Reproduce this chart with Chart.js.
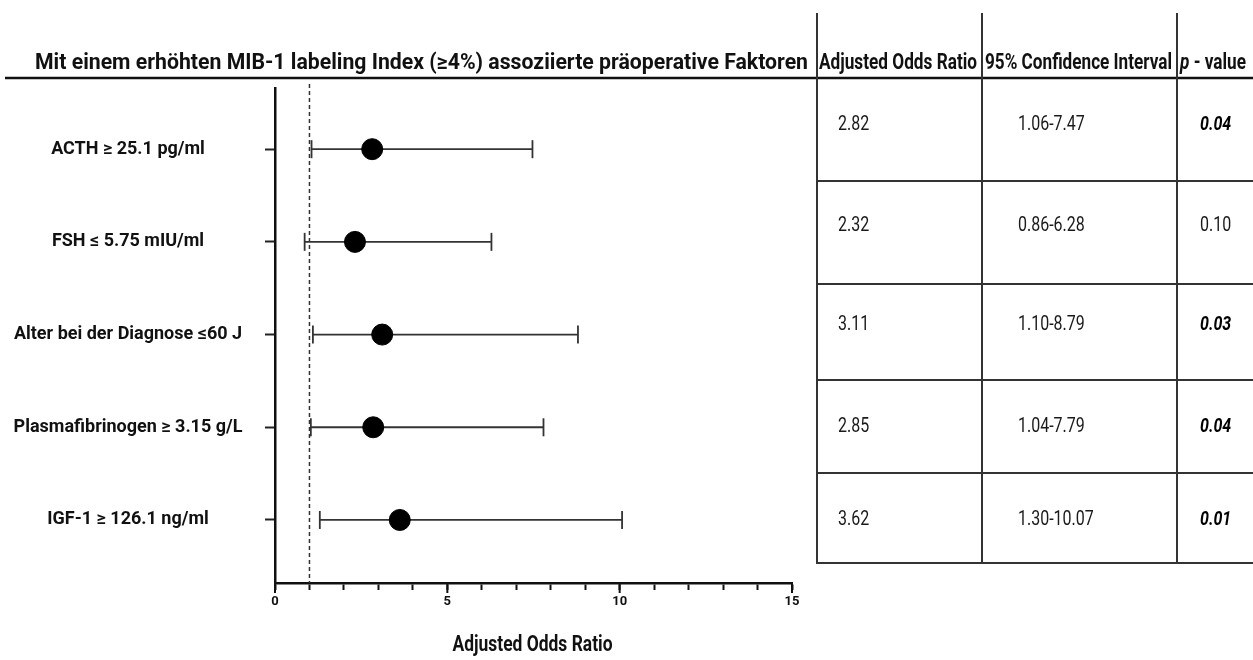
<!DOCTYPE html>
<html><head><meta charset="utf-8">
<script src="https://cdn.jsdelivr.net/npm/chart.js@4.4.1/dist/chart.umd.min.js"></script>
<style>html,body{margin:0;padding:0;background:#fff;} canvas{display:block;}</style>
</head><body>
<canvas id="c" width="1253" height="660"></canvas>
<script>
// ---------- data ----------
const factors = ['ACTH ≥ 25.1 pg/ml', 'FSH ≤ 5.75 mIU/ml', 'Alter bei der Diagnose ≤60 J', 'Plasmafibrinogen ≥ 3.15 g/L', 'IGF-1 ≥ 126.1 ng/ml'];
const oddsRatio = [2.82, 2.32, 3.11, 2.85, 3.62];
const ciLower = [1.06, 0.86, 1.10, 1.04, 1.30];
const ciUpper = [7.47, 6.28, 8.79, 7.79, 10.07];
const pValues = [0.04, 0.10, 0.03, 0.04, 0.01];
const xTickLabels = [0, 5, 10, 15];
const referenceLine = 1;
const chartTitle = 'Mit einem erhöhten MIB-1 labeling Index (≥4%) assoziierte präoperative Faktoren';
const tableHeaders = ['Adjusted Odds Ratio', '95% Confidence Interval', ' - value'];
const xAxisTitle = 'Adjusted Odds Ratio';

// ---------- helpers ----------
const FONT = 'Roboto';
function fitText(ctx, text, x, y, font, width) {
  ctx.save();
  ctx.font = font;
  const w = ctx.measureText(text).width;
  ctx.translate(x, y);
  ctx.scale(width / w, 1);
  ctx.textAlign = 'left';
  ctx.fillText(text, 0, 0);
  ctx.restore();
}
function condText(ctx, text, x, y, font, sx) {
  ctx.save();
  ctx.font = font;
  ctx.translate(x, y);
  ctx.scale(sx, 1);
  ctx.textAlign = 'left';
  ctx.fillText(text, 0, 0);
  ctx.restore();
}
function line(ctx, x1, y1, x2, y2) {
  ctx.beginPath(); ctx.moveTo(x1, y1); ctx.lineTo(x2, y2); ctx.stroke();
}

const LABEL_SIZE = 18;
const mctx = document.createElement('canvas').getContext('2d');
mctx.font = 'bold ' + LABEL_SIZE + 'px ' + FONT;
const widest = Math.max(...factors.map(f => mctx.measureText(f).width));
const yPad = Math.max(4, 275 - 10 - 128 - widest / 2);

const forestPlugin = {
  id: 'forest',
  beforeDatasetsDraw(chart) {
    const ctx = chart.ctx, xs = chart.scales.x, ys = chart.scales.y, a = chart.chartArea;
    ctx.save();
    // reference line
    ctx.strokeStyle = '#333'; ctx.lineWidth = 1.5; ctx.setLineDash([4, 3]);
    const rx = xs.getPixelForValue(referenceLine);
    line(ctx, rx, a.top - 4, rx, a.bottom);
    ctx.setLineDash([]);
    // error bars
    ctx.strokeStyle = '#333'; ctx.lineWidth = 1.8;
    ciLower.forEach((lo, i) => {
      const y = ys.getPixelForValue(i + 1);
      const x1 = xs.getPixelForValue(lo), x2 = xs.getPixelForValue(ciUpper[i]);
      line(ctx, x1, y, x2, y);
      line(ctx, x1, y - 9, x1, y + 9);
      line(ctx, x2, y - 9, x2, y + 9);
    });
    // longer major ticks
    ctx.strokeStyle = '#111'; ctx.lineWidth = 2;
    xTickLabels.forEach(v => {
      const x = xs.getPixelForValue(v);
      line(ctx, x, a.bottom, x, a.bottom + 10);
    });
    ctx.restore();
  },
  afterDraw(chart) {
    const ctx = chart.ctx, a = chart.chartArea;
    ctx.save();
    ctx.fillStyle = '#111';
    ctx.textBaseline = 'middle';
    // title
    fitText(ctx, chartTitle, 35, 63, 'bold 22px ' + FONT, 773);
    // table header
    fitText(ctx, tableHeaders[0], 819, 63, 'bold 22px ' + FONT, 158);
    fitText(ctx, tableHeaders[1], 985, 63, 'bold 22px ' + FONT, 187);
    {
      ctx.save();
      ctx.font = 'italic bold 22px ' + FONT;
      const wp = ctx.measureText('p').width;
      ctx.font = 'bold 22px ' + FONT;
      const wr = ctx.measureText(tableHeaders[2]).width;
      const s = 66 / (wp + wr);
      ctx.translate(1180, 63); ctx.scale(s, 1);
      ctx.font = 'italic bold 22px ' + FONT; ctx.fillText('p', 0, 0);
      ctx.font = 'bold 22px ' + FONT; ctx.fillText(tableHeaders[2], wp, 0);
      ctx.restore();
    }
    // lines
    ctx.strokeStyle = '#111'; ctx.lineWidth = 2.5;
    line(ctx, 5, 78, 1253, 78);
    ctx.strokeStyle = '#333'; ctx.lineWidth = 2;
    [817, 982, 1177].forEach(x => line(ctx, x, 13, x, 564));
    [181, 284, 380, 473, 563].forEach(y => line(ctx, 817, y, 1253, y));
    // cells
    const rowY = [125, 226, 325, 427, 520];
    oddsRatio.forEach((v, i) => {
      const y = rowY[i];
      ctx.fillStyle = '#1a1a1a';
      condText(ctx, v.toFixed(2), 838, y, '20px ' + FONT, 0.8);
      condText(ctx, ciLower[i].toFixed(2) + '-' + ciUpper[i].toFixed(2), 1018, y, '20px ' + FONT, 0.8);
      const sig = pValues[i] < 0.05;
      ctx.fillStyle = sig ? '#000' : '#1a1a1a';
      condText(ctx, pValues[i].toFixed(2), 1200, y, (sig ? 'italic bold ' : '') + '20px ' + FONT, 0.8);
    });
    // x axis title
    ctx.fillStyle = '#111';
    const cx = (a.left + a.right) / 2;
    fitText(ctx, xAxisTitle, cx - 81, 645, 'bold 22px ' + FONT, 160);
    ctx.restore();
  }
};

new Chart(document.getElementById('c'), {
  type: 'scatter',
  data: {
    datasets: [{
      data: oddsRatio.map((v, i) => ({ x: v, y: i + 1 })),
      backgroundColor: '#000', borderColor: '#000',
      pointRadius: 10.5, pointHoverRadius: 10.5
    }]
  },
  options: {
    responsive: false, animation: false, devicePixelRatio: 1,
    layout: { padding: { top: 88, right: 461, left: 0, bottom: 0 } },
    plugins: { legend: { display: false }, tooltip: { enabled: false } },
    scales: {
      x: {
        type: 'linear', min: 0, max: 15,
        afterFit(s) { s.height = 77; },
        ticks: {
          stepSize: 1, autoSkip: false, maxRotation: 0, color: '#111', padding: 4,
          font: { family: FONT, size: 13, weight: 'bold' },
          callback: v => xTickLabels.includes(v) ? String(v) : ''
        },
        grid: { drawOnChartArea: false, drawTicks: true, tickLength: 7, tickColor: '#111', tickWidth: 2 },
        border: { color: '#111', width: 2.5 }
      },
      y: {
        type: 'linear', reverse: true, min: 0.34, max: 5.68,
        afterFit(s) { s.width = 275; },
        afterBuildTicks(s) { s.ticks = factors.map((f, i) => ({ value: i + 1 })); },
        ticks: {
          autoSkip: false, color: '#111', crossAlign: 'center', padding: yPad,
          font: { family: FONT, size: LABEL_SIZE, weight: 'bold' },
          callback: (v, i) => factors[i]
        },
        grid: { drawOnChartArea: false, tickLength: 10, tickColor: '#222', tickWidth: 2 },
        border: { color: '#111', width: 2.5 }
      }
    }
  },
  plugins: [forestPlugin]
});
</script>
</body></html>
